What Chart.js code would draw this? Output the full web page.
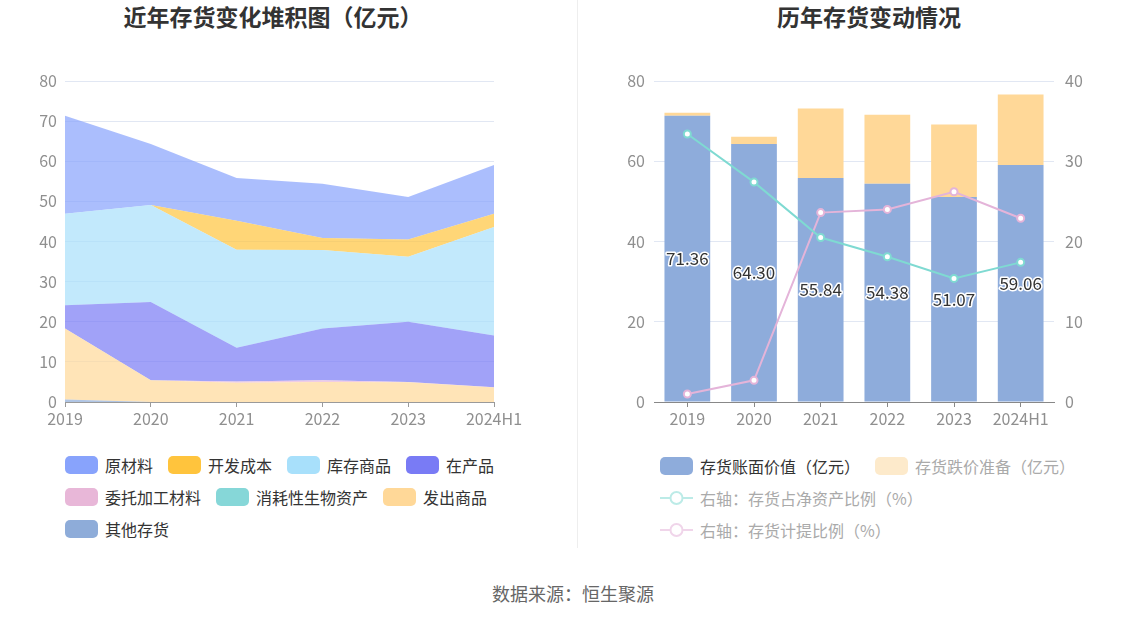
<!DOCTYPE html>
<html>
<head>
<meta charset="utf-8">
<script src="https://cdn.jsdelivr.net/npm/chart.js"></script>
<style>
  body { margin: 0; width: 1147px; height: 619px; background: #fff; position: relative; overflow: hidden;
         font-family: "Noto Sans CJK SC", sans-serif; }
  .title { position: absolute; top: -2px; line-height: 36px; font-size: 23px; font-weight: bold; color: #333;
           transform: translateX(-50%); white-space: nowrap; }
  .divider { position: absolute; left: 577px; top: 0; width: 1px; height: 548px; background: #eee; }
  .box { position: absolute; }
  .legend { position: absolute; display: flex; flex-wrap: wrap; column-gap: 15px; row-gap: 14px; }
  .item { display: flex; align-items: center; height: 18px; font-size: 16px; color: #333; white-space: nowrap; }
  .swatch { width: 33px; height: 18px; border-radius: 5px; margin-right: 7px; }
  .source { position: absolute; left: 573px; top: 580px; transform: translateX(-50%); font-size: 18px; color: #666; }
</style>
</head>
<body>
<div class="title" style="left:273px">近年存货变化堆积图（亿元）</div>
<div class="title" style="left:869px">历年存货变动情况</div>
<div class="divider"></div>
<div class="box" style="left:0;top:60px;width:577px;height:390px"><canvas id="left"></canvas></div>
<div class="box" style="left:577px;top:60px;width:570px;height:390px"><canvas id="right"></canvas></div>
<div class="legend" id="legLeft" style="left:65px;top:456px;width:440px"></div>
<div class="legend" id="legRight" style="left:660px;top:457px;width:440px"></div>
<div class="source">数据来源：恒生聚源</div>

<script>
// -- Categories shared by both charts.
const years = ['2019', '2020', '2021', '2022', '2023', '2024H1'];

// -- Left chart: inventory composition (亿元).
const rawMaterials   = [24.46, 15.2, 10.69, 13.48, 10.57, 12.16];
const devCost        = [0, 0, 7.2, 3.0, 4.3, 3.3];
const finishedGoods  = [22.8, 24.2, 24.45, 19.6, 16.2, 27.0];
const wip            = [5.8, 19.5, 8.4, 12.9, 15.0, 12.9];
const consigned      = [0, 0, 0.3, 0.4, 0.1, 0.1];
const bioAssets      = [0, 0, 0, 0, 0, 0];
const goodsShipped   = [17.7, 5.4, 4.8, 5.0, 4.9, 3.6];
const otherInventory = [0.6, 0, 0, 0, 0, 0];

// -- Right chart.
const bookValue      = [71.36, 64.30, 55.84, 54.38, 51.07, 59.06];
const provision      = [0.7, 1.8, 17.3, 17.2, 18.1, 17.6];
const netAssetRatio  = [33.4, 27.4, 20.5, 18.1, 15.4, 17.4];
const provisionRatio = [1.0, 2.7, 23.6, 24.0, 26.2, 22.9];

const FONT = '"Noto Sans CJK SC", sans-serif';
const TICK = '#8f8f8f';
const GRID = '#e1e7f3';

// -- Series of the stacked areas, listed in legend order.
const leftSeries = [
  {name: '原材料',         data: rawMaterials,   color: '136,163,252'},
  {name: '开发成本',       data: devCost,        color: '255,196,61'},
  {name: '库存商品',       data: finishedGoods,  color: '168,224,251'},
  {name: '在产品',         data: wip,            color: '121,123,245'},
  {name: '委托加工材料',   data: consigned,      color: '232,183,216'},
  {name: '消耗性生物资产', data: bioAssets,      color: '134,215,216'},
  {name: '发出商品',       data: goodsShipped,   color: '255,216,152'},
  {name: '其他存货',       data: otherInventory, color: '142,172,217'},
];
// -- Stacking order, bottom to top.
const stackOrder = ['其他存货', '发出商品', '委托加工材料', '消耗性生物资产', '在产品', '库存商品', '开发成本', '原材料'];

Chart.defaults.font.family = FONT;
Chart.defaults.animation = false;

const fixWidth = (w) => (scale) => { scale.width = w; };
const fixHeight = (h) => (scale) => { scale.height = h; };

new Chart(document.getElementById('left'), {
  type: 'line',
  data: {
    labels: years,
    datasets: stackOrder.map((name, i) => {
      const s = leftSeries.find(d => d.name === name);
      return {
        label: s.name,
        data: s.data,
        fill: i === 0 ? 'origin' : '-1',
        backgroundColor: 'rgba(' + s.color + ',0.7)',
        borderWidth: 0,
        pointRadius: 0,
        tension: 0,
      };
    }),
  },
  options: {
    responsive: true,
    maintainAspectRatio: false,
    layout: {padding: {left: 0, right: 83, top: 21, bottom: 18}},
    plugins: {legend: {display: false}, tooltip: {enabled: false}},
    scales: {
      x: {
        offset: false,
        afterFit: fixHeight(30),
        grid: {drawOnChartArea: false, drawTicks: true, tickLength: 5, color: '#9a9a9a'},
        border: {color: '#9a9a9a'},
        ticks: {color: TICK, font: {size: 16}, padding: 2, maxRotation: 0},
      },
      y: {
        stacked: true,
        min: 0, max: 80,
        afterFit: fixWidth(65),
        grid: {color: GRID, drawTicks: false},
        border: {display: false},
        ticks: {stepSize: 10, color: TICK, font: {size: 16}, padding: 8},
      },
    },
  },
});

// -- Draw the book value on every blue bar, with a white outline.
const barLabels = {
  id: 'barLabels',
  afterDatasetsDraw(chart) {
    const {ctx} = chart;
    const meta = chart.getDatasetMeta(0);
    ctx.save();
    ctx.font = '17px ' + FONT;
    ctx.textAlign = 'center';
    ctx.textBaseline = 'middle';
    ctx.lineJoin = 'round';
    ctx.lineWidth = 3;
    ctx.strokeStyle = '#fff';
    ctx.fillStyle = '#333';
    meta.data.forEach((bar, i) => {
      const {x, y} = bar.getCenterPoint();
      const txt = bookValue[i].toFixed(2);
      ctx.strokeText(txt, x, y);
      ctx.fillText(txt, x, y);
    });
    ctx.restore();
  },
};

new Chart(document.getElementById('right'), {
  data: {
    labels: years,
    datasets: [
      {type: 'bar', label: '存货账面价值（亿元）', data: bookValue, backgroundColor: '#8eacdb',
       yAxisID: 'y', stack: 'inv', barPercentage: 0.686, categoryPercentage: 1, order: 3},
      {type: 'bar', label: '存货跌价准备（亿元）', data: provision, backgroundColor: '#ffd898',
       yAxisID: 'y', stack: 'inv', barPercentage: 0.686, categoryPercentage: 1, order: 3},
      {type: 'line', label: '右轴：存货占净资产比例（%）', data: netAssetRatio, yAxisID: 'y1',
       borderColor: '#7fdad2', borderWidth: 2, pointRadius: 3.5, pointBorderWidth: 2,
       pointBackgroundColor: '#fff', pointBorderColor: '#7fdad2', tension: 0, order: 1},
      {type: 'line', label: '右轴：存货计提比例（%）', data: provisionRatio, yAxisID: 'y1',
       borderColor: '#e4b4d9', borderWidth: 2, pointRadius: 3.5, pointBorderWidth: 2,
       pointBackgroundColor: '#fff', pointBorderColor: '#e4b4d9', tension: 0, order: 2},
    ],
  },
  options: {
    responsive: true,
    maintainAspectRatio: false,
    layout: {padding: {left: 0, right: 0, top: 21, bottom: 18}},
    plugins: {legend: {display: false}, tooltip: {enabled: false}},
    scales: {
      x: {
        stacked: true,
        offset: true,
        afterFit: fixHeight(30),
        grid: {offset: false, drawOnChartArea: false, drawTicks: true, tickLength: 5, color: '#888'},
        border: {color: '#888'},
        ticks: {color: TICK, font: {size: 16}, padding: 2, maxRotation: 0},
      },
      y: {
        stacked: true,
        position: 'left',
        min: 0, max: 80,
        afterFit: fixWidth(77),
        grid: {color: GRID, drawTicks: false},
        border: {display: false},
        ticks: {stepSize: 20, color: TICK, font: {size: 16}, padding: 9},
      },
      y1: {
        position: 'right',
        min: 0, max: 40,
        afterFit: fixWidth(93),
        grid: {drawOnChartArea: false, drawTicks: false},
        border: {display: false},
        ticks: {stepSize: 10, color: TICK, font: {size: 16}, padding: 11},
      },
    },
  },
  plugins: [barLabels],
});

// -- HTML legends.
const legLeft = document.getElementById('legLeft');
leftSeries.forEach(s => {
  const item = document.createElement('div');
  item.className = 'item';
  item.innerHTML = '<span class="swatch" style="background:rgb(' + s.color + ')"></span>' + s.name;
  legLeft.appendChild(item);
});

const rightLegend = [
  {name: '存货账面价值（亿元）', kind: 'box', color: '#8eacdb', text: '#333'},
  {name: '存货跌价准备（亿元）', kind: 'box', color: '#fdeacb', text: '#aaa'},
  {name: '右轴：存货占净资产比例（%）', kind: 'line', color: '#bcebe7', text: '#aaa'},
  {name: '右轴：存货计提比例（%）', kind: 'line', color: '#f0d5ea', text: '#aaa'},
];
const legRight = document.getElementById('legRight');
rightLegend.forEach((s, i) => {
  const item = document.createElement('div');
  item.className = 'item';
  item.style.color = s.text;
  if (i >= 2) item.style.width = '100%';
  const icon = s.kind === 'box'
    ? '<span class="swatch" style="background:' + s.color + '"></span>'
    : '<svg width="33" height="18" style="margin-right:7px"><line x1="0" y1="9" x2="33" y2="9" stroke="' + s.color +
      '" stroke-width="2"/><circle cx="16.5" cy="9" r="6" fill="#fff" stroke="' + s.color + '" stroke-width="2"/></svg>';
  item.innerHTML = icon + s.name;
  legRight.appendChild(item);
});
</script>
</body>
</html>
